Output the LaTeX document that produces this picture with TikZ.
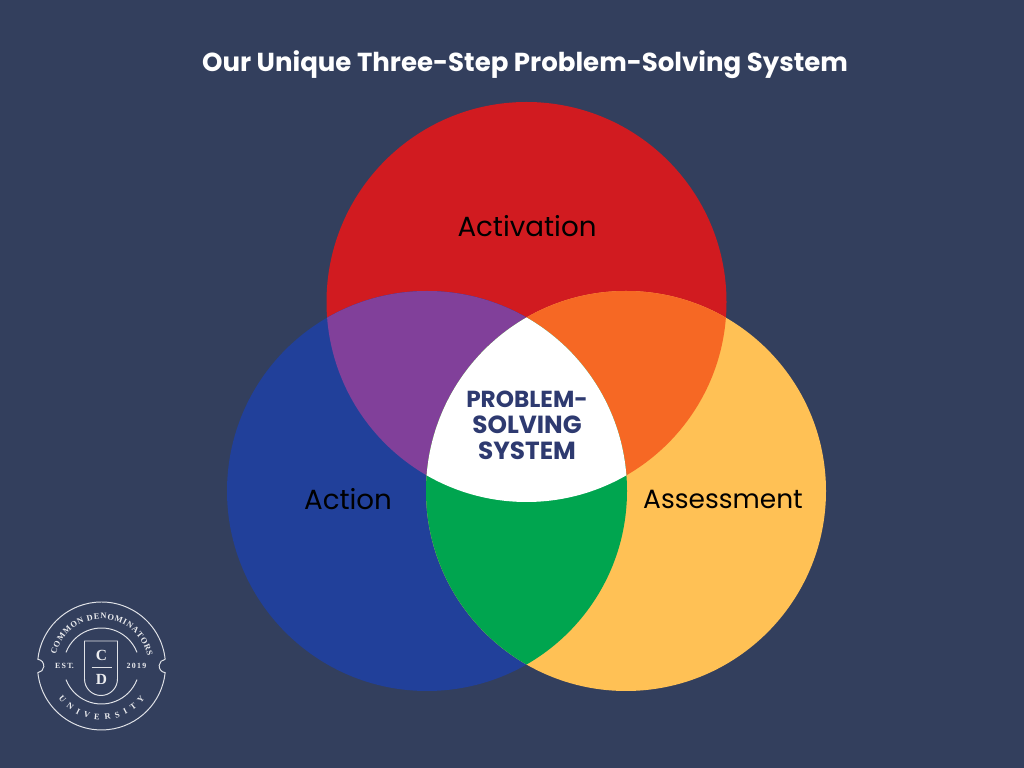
\documentclass[tikz,border=0pt]{standalone}
\usepackage{fontspec}
\setmainfont{Poppins}
\newfontfamily\sealfont{Liberation Serif}
\usetikzlibrary{positioning, decorations.text}
\definecolor{bgblue}{HTML}{333F5D}
\definecolor{vennred}{HTML}{D11B20}
\definecolor{vennblue}{HTML}{21409A}
\definecolor{vennyellow}{HTML}{FFC155}
\definecolor{vennpurple}{HTML}{81409A}
\definecolor{vennorange}{HTML}{F66824}
\definecolor{venngreen}{HTML}{00A54F}
\definecolor{centertext}{HTML}{2E3A70}
\begin{document}
\begin{tikzpicture}[
        x=0.025cm, y=0.025cm,
        title/.style={text=white, font=\fontsize{18.5}{22}\selectfont\bfseries},
        vennlabel/.style={text=black, font=\fontsize{19.7}{24}\selectfont},
        centerlabel/.style={text=centertext, align=center, font=\fontsize{16.5}{18.4}\selectfont\bfseries},
        seal/.style={draw=white!85!bgblue, line width=0.7pt},
        sealtext/.style={text=white!90!bgblue, font=\sealfont\bfseries\fontsize{5.6}{6}\selectfont},
        sealletter/.style={text=white!90!bgblue, font=\sealfont\bfseries\fontsize{11}{12}\selectfont}
    ]
    \fill[bgblue] (0,0) rectangle (1024,768);
    \useasboundingbox (0,0) rectangle (1024,768);

    % the three circles
    \def\redpath{(526.5,466) circle[radius=200]}
    \def\bluepath{(427,277) circle[radius=200]}
    \def\yellowpath{(626,277) circle[radius=200]}
    \fill[vennred] \redpath;
    \fill[vennblue] \bluepath;
    \fill[vennyellow] \yellowpath;

    % overlaps
    \begin{scope}
        \clip \redpath;
        \fill[vennpurple] \bluepath;
        \fill[vennorange] \yellowpath;
    \end{scope}
    \begin{scope}
        \clip \bluepath;
        \fill[venngreen] \yellowpath;
    \end{scope}
    \begin{scope}
        \clip \redpath;
        \clip \bluepath;
        \fill[white] \yellowpath;
    \end{scope}

    \node[title] (heading) at (525,703) {Our Unique Three-Step Problem-Solving System};
    \node[vennlabel] (activation) at (527,542) {Activation};
    \node[vennlabel] (action) at (348,269) {Action};
    \node[vennlabel, font=\fontsize{18.8}{24}\selectfont] (assessment) at (723,269) {Assessment};
    \node[centerlabel] (system) at (527,342.5) {PROBLEM-\\{\fontsize{17.6}{18.4}\selectfont SOLVING}\\{\fontsize{17.6}{18.4}\selectfont SYSTEM}};

    % seal
    \begin{scope}[shift={(101.5,102)}]
        \draw[seal] (6:64) arc[start angle=6, end angle=174, radius=64]
            arc[start angle=84, end angle=-84, radius=6.7]
            arc[start angle=186, end angle=354, radius=64]
            arc[start angle=264, end angle=96, radius=6.7];
        \draw[seal] (21:38) arc[start angle=21, end angle=159, radius=38];
        \draw[seal] (201:38) arc[start angle=201, end angle=339, radius=38];
        \draw[seal] (-17,25) -- (16,25) -- (16,-13)
            arc[start angle=0, end angle=-180, radius=16.5] -- cycle;
        \draw[seal] (-10,-1) -- (10,-1);
        \node[sealletter] (sealc) at (0,10.5) {C};
        \node[sealletter] (seald) at (0,-13) {D};
        \node[sealtext] (sealest) at (-37,0) {E\,S\,T.};
        \node[sealtext] (sealyear) at (35,0) {2\,0\,1\,9};
        \path[decorate, decoration={text along path, text align={fit to path},
            text={|\sealfont\bfseries\fontsize{6}{6}\selectfont\color{white!90!bgblue}|COMMON DENOMINATORS}}]
            (166:47) arc[start angle=166, end angle=12, radius=47];
        \path[decorate, decoration={text along path, text align={fit to path},
            text={|\sealfont\bfseries\fontsize{6}{6}\selectfont\color{white!90!bgblue}|UNIVERSITY}}]
            (217:54) arc[start angle=217, end angle=323, radius=54];
    \end{scope}
\end{tikzpicture}
\end{document}
